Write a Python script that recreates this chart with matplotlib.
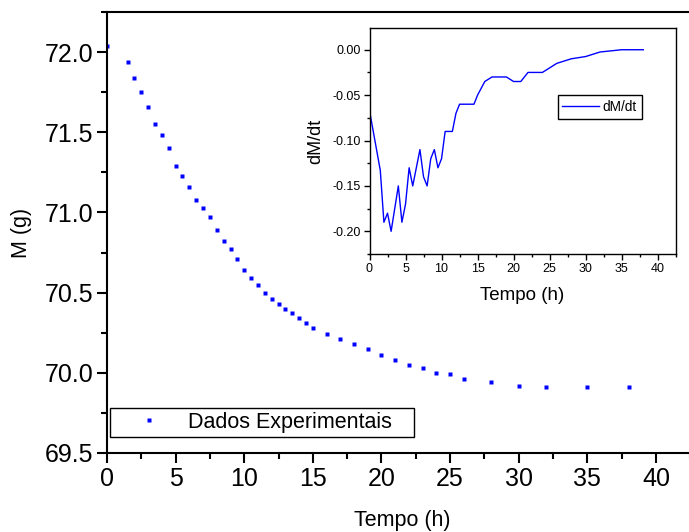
import numpy as np
import matplotlib.pyplot as plt
from matplotlib.ticker import MultipleLocator, FormatStrFormatter

plt.rcParams['font.family'] = ['Liberation Sans', 'DejaVu Sans']
plt.rcParams['axes.unicode_minus'] = False

# experimental mass data
tempo = [0, 1.5, 2, 2.5, 3, 3.5, 4, 4.5, 5, 5.5, 6, 6.5, 7, 7.5, 8, 8.5, 9, 9.5,
         10, 10.5, 11, 11.5, 12, 12.5, 13, 13.5, 14, 14.5, 15, 16, 17, 18, 19,
         20, 21, 22, 23, 24, 25, 26, 28, 30, 32, 35, 38]
massa = [72.04, 71.94, 71.84, 71.75, 71.66, 71.55, 71.48, 71.40, 71.29, 71.23,
         71.16, 71.08, 71.03, 70.97, 70.89, 70.82, 70.77, 70.71, 70.64, 70.59,
         70.55, 70.50, 70.46, 70.43, 70.40, 70.37, 70.34, 70.31, 70.28, 70.24,
         70.21, 70.18, 70.15, 70.11, 70.08, 70.05, 70.03, 70.00, 69.99, 69.96,
         69.94, 69.92, 69.91, 69.91, 69.91]

# derivative dM/dt
dmdt = [-0.067, -0.133, -0.19, -0.18, -0.20, -0.175, -0.15, -0.19, -0.17, -0.13,
        -0.15, -0.13, -0.11, -0.14, -0.15, -0.12, -0.11, -0.13, -0.12, -0.09,
        -0.09, -0.09, -0.07, -0.06, -0.06, -0.06, -0.06, -0.06, -0.05, -0.035,
        -0.03, -0.03, -0.03, -0.035, -0.035, -0.025, -0.025, -0.025, -0.02,
        -0.015, -0.01, -0.0075, -0.0025, 0.0, 0.0]

W, H = 689, 532
fig = plt.figure(figsize=(W / 100, H / 100), dpi=100)

# main axes (right side runs past the figure edge)
ax = fig.add_axes([107 / W, (H - 453) / H, 43 * 13.725 / W, 441 / H])
ax.plot(tempo, massa, 's', color='blue', ms=3, mec='none', label='Dados Experimentais   ')
ax.set_xlim(0, 43)
ax.set_ylim(69.5, 72.25)
ax.xaxis.set_major_locator(MultipleLocator(5))
ax.xaxis.set_minor_locator(MultipleLocator(2.5))
ax.yaxis.set_major_locator(MultipleLocator(0.5))
ax.yaxis.set_minor_locator(MultipleLocator(0.25))
ax.yaxis.set_major_formatter(FormatStrFormatter('%.1f'))
ax.spines['right'].set_visible(False)
for s in ax.spines.values():
    s.set_linewidth(1.5)
ax.tick_params(which='both', direction='out', top=False, right=False, width=1.5)
ax.tick_params(which='major', length=7, labelsize=18, pad=3)
ax.tick_params(which='minor', length=4)
ax.set_xlabel('Tempo (h)', fontsize=15.5, labelpad=14)
ax.set_ylabel('M (g)', fontsize=15.5, labelpad=9)
leg = ax.legend(loc='lower left', bbox_to_anchor=(110.3 / W, (H - 437.3) / H),
                bbox_transform=fig.transFigure, fontsize=15.5, borderpad=0.2,
                handlelength=3.2, handletextpad=0.2, borderaxespad=0,
                fancybox=False, edgecolor='black', framealpha=1, markerscale=1.2)
leg.get_frame().set_linewidth(1.0)

# inset
ins = fig.add_axes([369.5 / W, (H - 254.3) / H, 306.2 / W, 226 / H])
ins.plot(tempo, dmdt, color='blue', lw=1, label='dM/dt')
ins.set_xlim(0, 42.5)
ins.set_ylim(-0.2253, 0.0236)
ins.xaxis.set_major_locator(MultipleLocator(5))
ins.xaxis.set_minor_locator(MultipleLocator(2.5))
ins.yaxis.set_major_locator(MultipleLocator(0.05))
ins.yaxis.set_minor_locator(MultipleLocator(0.025))
ins.yaxis.set_major_formatter(FormatStrFormatter('%.2f'))
for s in ins.spines.values():
    s.set_linewidth(1.0)
ins.tick_params(which='both', direction='out', top=False, right=False, width=1.0)
ins.tick_params(which='major', length=4, labelsize=9, pad=2)
ins.tick_params(which='minor', length=2.5)
ins.set_xlabel('Tempo (h)', fontsize=13.5, labelpad=9)
ins.set_ylabel('dM/dt', fontsize=13, labelpad=6)
leg2 = ins.legend(loc='upper left', bbox_to_anchor=(557.7 / W, (H - 95.3) / H),
                  bbox_transform=fig.transFigure, fontsize=9.8, borderpad=0.35,
                  handlelength=2.65, handletextpad=0.3, borderaxespad=0,
                  fancybox=False, edgecolor='black', framealpha=1)
leg2.get_frame().set_linewidth(1.0)

fig.savefig('out.png', dpi=100)
